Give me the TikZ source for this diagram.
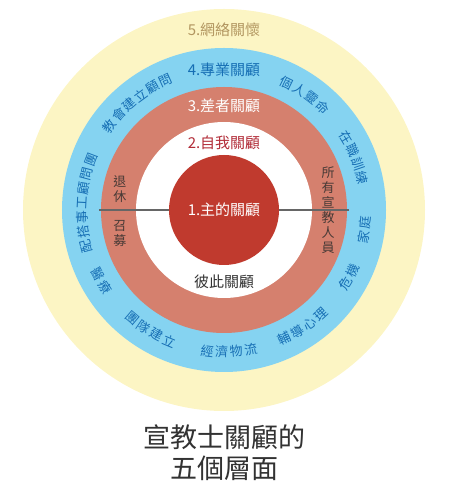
\documentclass[tikz,border=0pt]{standalone}
\usepackage{fontspec}
\setmainfont{Noto Sans CJK TC}
\usetikzlibrary{calc}
\definecolor{ringYellow}{RGB}{252,245,196}
\definecolor{ringBlue}{RGB}{133,211,241}
\definecolor{ringSalmon}{RGB}{213,128,110}
\definecolor{coreRed}{RGB}{192,58,46}
\definecolor{textBlue}{RGB}{22,110,180}
\definecolor{textKhaki}{RGB}{178,150,96}
\definecolor{textRed}{RGB}{178,44,56}
\definecolor{textDark}{RGB}{72,58,54}
\definecolor{titleGray}{RGB}{50,50,50}
\tikzset{
  ringlbl/.style={text=textBlue,font=\fontsize{13}{13}\selectfont,inner sep=0pt},
  layerlbl/.style={font=\fontsize{15}{15}\selectfont,inner sep=1pt},
  sidelbl/.style={text=textDark,font=\fontsize{13}{15}\selectfont,align=center,inner sep=0pt},
}
\newcommand{\chstep}{5.9}
\newcommand{\ringrad}{142pt}
% #1 name, #2 centre angle, #3 direction (-1 clockwise, 1 anticlockwise), #4 count, #5 characters
\newcommand{\arcword}[5]{%
  \foreach \cjch [count=\k from 0] in {#5}{
    \pgfmathsetmacro\ang{#2+#3*(\k-(#4-1)/2)*\chstep}
    \node[ringlbl,rotate=\ang+#3*90] (#1\k) at (\ang:\ringrad) {\cjch};
  }}

\begin{document}
\begin{tikzpicture}
\useasboundingbox (-224pt,-292pt) rectangle (224pt,210pt);
% rings
\fill[ringYellow] (0,0) circle[radius=201pt];
\fill[ringBlue] (0,0) circle[radius=162pt];
\fill[ringSalmon] (0,0) circle[radius=123pt];
\fill[white] (0,0) circle[radius=88pt];
\coordinate (salL) at (180:125pt);
\coordinate (salR) at (0:125pt);
\coordinate (coreL) at (180:55pt);
\coordinate (coreR) at (0:55pt);
\draw[black!60,line width=1.2pt] (salL) -- (coreL);
\draw[black!60,line width=1.2pt] (coreR) -- (salR);
\fill[coreRed] (0,0) circle[radius=55pt];

% layer titles
\node[layerlbl,text=textKhaki] (lay5) at (0,180pt) {5.網絡關懷};
\node[layerlbl,text=textBlue] (lay4) at (0,140pt) {4.專業關顧};
\node[layerlbl,text=white] (lay3) at (0,104pt) {3.差者關顧};
\node[layerlbl,text=textRed] (lay2) at (0,67pt) {2.自我關顧};
\node[layerlbl,text=white] (lay1) at (0,0) {1.主的關顧};
\node[layerlbl,text=black!80] (mutual) at (0,-72pt) {彼此關顧};

% salmon ring columns
\node[sidelbl] (retire) at (-104pt,21pt) {退\\休};
\node[sidelbl] (recruit) at (-104pt,-24pt) {召\\募};
\node[sidelbl] (allmiss) at (104pt,0) {所\\有\\宣\\教\\人\\員};

% blue ring words
\arcword{cons}{129}{-1}{6}{教,會,建,立,顧,問}
\arcword{soul}{55}{-1}{4}{個,人,靈,命}
\arcword{train}{22}{-1}{4}{在,職,訓,練}
\arcword{team}{177}{-1}{7}{配,搭,事,工,顧,問,團}
\arcword{home}{-8}{1}{2}{家,庭}
\arcword{crisis}{-28}{1}{2}{危,機}
\arcword{couns}{-56}{1}{4}{輔,導,心,理}
\arcword{logis}{-88}{1}{4}{經,濟,物,流}
\arcword{build}{-121.5}{1}{4}{團,隊,建,立}
\arcword{med}{-150}{1}{2}{醫,療}

% title
\node[font=\fontsize{27}{31}\selectfont,text=titleGray,align=center] (title) at (0,-243pt) {宣教士關顧的\\五個層面};
\end{tikzpicture}
\end{document}
